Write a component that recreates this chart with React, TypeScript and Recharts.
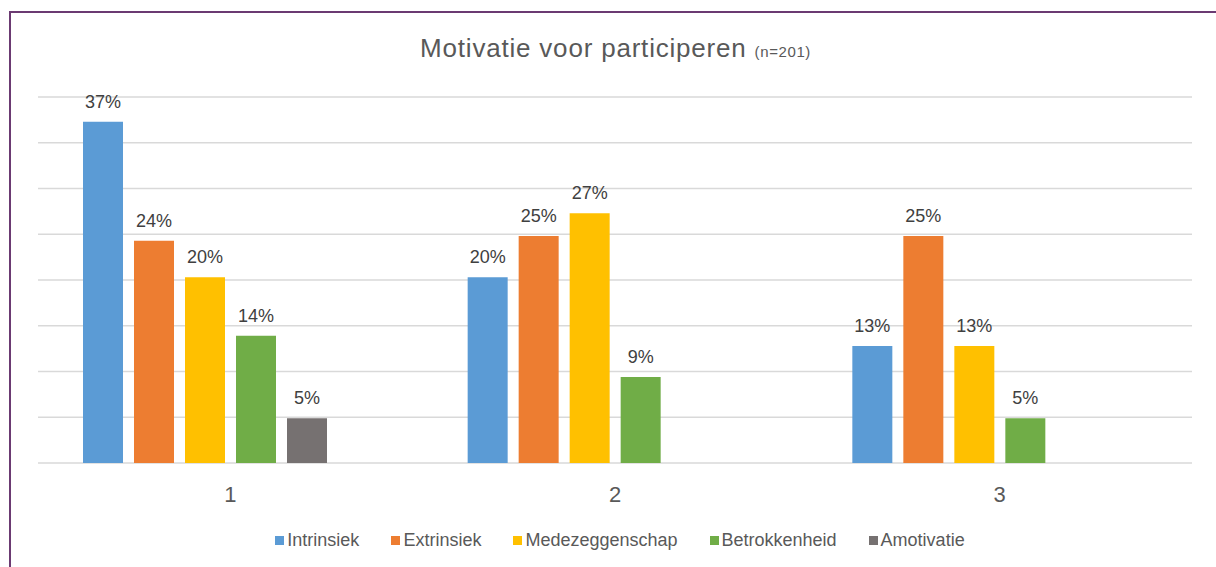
import React from "react";
import { BarChart, Bar, XAxis, YAxis, CartesianGrid, LabelList } from "recharts";

const groepen = ["1", "2", "3"];
const intrinsiek = [37.3, 20.3, 12.8];
const extrinsiek = [24.3, 24.8, 24.8];
const medezeggenschap = [20.3, 27.3, 12.8];
const betrokkenheid = [13.9, 9.4, 4.9];
const amotivatie = [4.9, null, null];
const yTicks = [0, 5, 10, 15, 20, 25, 30, 35, 40];

const SERIES = [
  { key: "intrinsiek", name: "Intrinsiek", color: "#5B9BD5" },
  { key: "extrinsiek", name: "Extrinsiek", color: "#ED7D31" },
  { key: "medezeggenschap", name: "Medezeggenschap", color: "#FFC000" },
  { key: "betrokkenheid", name: "Betrokkenheid", color: "#70AD47" },
  { key: "amotivatie", name: "Amotivatie", color: "#767171" },
];

const data = groepen.map((g, i) => ({
  groep: g,
  intrinsiek: intrinsiek[i],
  extrinsiek: extrinsiek[i],
  medezeggenschap: medezeggenschap[i],
  betrokkenheid: betrokkenheid[i],
  amotivatie: amotivatie[i],
  leeg: null,
}));

const FONT = "'Liberation Sans', Arial, sans-serif";
const pct = (v: any) => (v == null ? "" : `${Math.round(Number(v))}%`);

export default function App() {
  return (
    <div style={{ position: "absolute", left: 0, top: 0, width: 1216, height: 567, overflow: "hidden", background: "#fff", fontFamily: FONT }}>
      <div
        style={{
          position: "absolute",
          left: 9,
          top: 11,
          width: 1260,
          height: 620,
          border: "2px solid #6B3A72",
          boxSizing: "border-box",
        }}
      />
      <div
        style={{
          position: "absolute",
          left: 0,
          top: 33,
          width: 1231,
          textAlign: "center",
          color: "#595959",
          fontSize: 26,
          letterSpacing: 0.8,
          whiteSpace: "nowrap",
        }}
      >
        Motivatie voor participeren <span style={{ fontSize: 15, letterSpacing: 0.6 }}>(n=201)</span>
      </div>
      <div style={{ position: "absolute", left: 0, top: 0 }}>
        <BarChart
          width={1216}
          height={567}
          data={data}
          margin={{ top: 97, right: 24, bottom: 74, left: 38 }}
          barSize={40}
          barGap={11}
        >
          <CartesianGrid vertical={false} stroke="#D9D9D9" strokeWidth={1.5} />
          <YAxis hide domain={[0, 40]} ticks={yTicks} />
          <XAxis
            dataKey="groep"
            axisLine={false}
            tickLine={false}
            tickSize={0}
            tickMargin={23}
            height={30}
            tick={{ fontSize: 22, fill: "#595959", fontFamily: FONT }}
          />
          {SERIES.map((s) => (
            <Bar key={s.key} dataKey={s.key} name={s.name} fill={s.color} isAnimationActive={false}>
              <LabelList
                dataKey={s.key}
                position="top"
                offset={14}
                formatter={pct}
                style={{ fontSize: 18, fill: "#404040", fontFamily: FONT }}
              />
            </Bar>
          ))}
          <Bar dataKey="leeg" legendType="none" fill="transparent" isAnimationActive={false} />
        </BarChart>
      </div>
      <div
        style={{
          position: "absolute",
          left: 0,
          top: 530,
          width: 1240,
          display: "flex",
          justifyContent: "center",
          gap: 32,
          color: "#595959",
          fontSize: 18,
        }}
      >
        {SERIES.map((s) => (
          <span key={s.key} style={{ display: "flex", alignItems: "center" }}>
            <span style={{ width: 9, height: 9, background: s.color, marginRight: 3, display: "inline-block" }} />
            {s.name}
          </span>
        ))}
      </div>
    </div>
  );
}
